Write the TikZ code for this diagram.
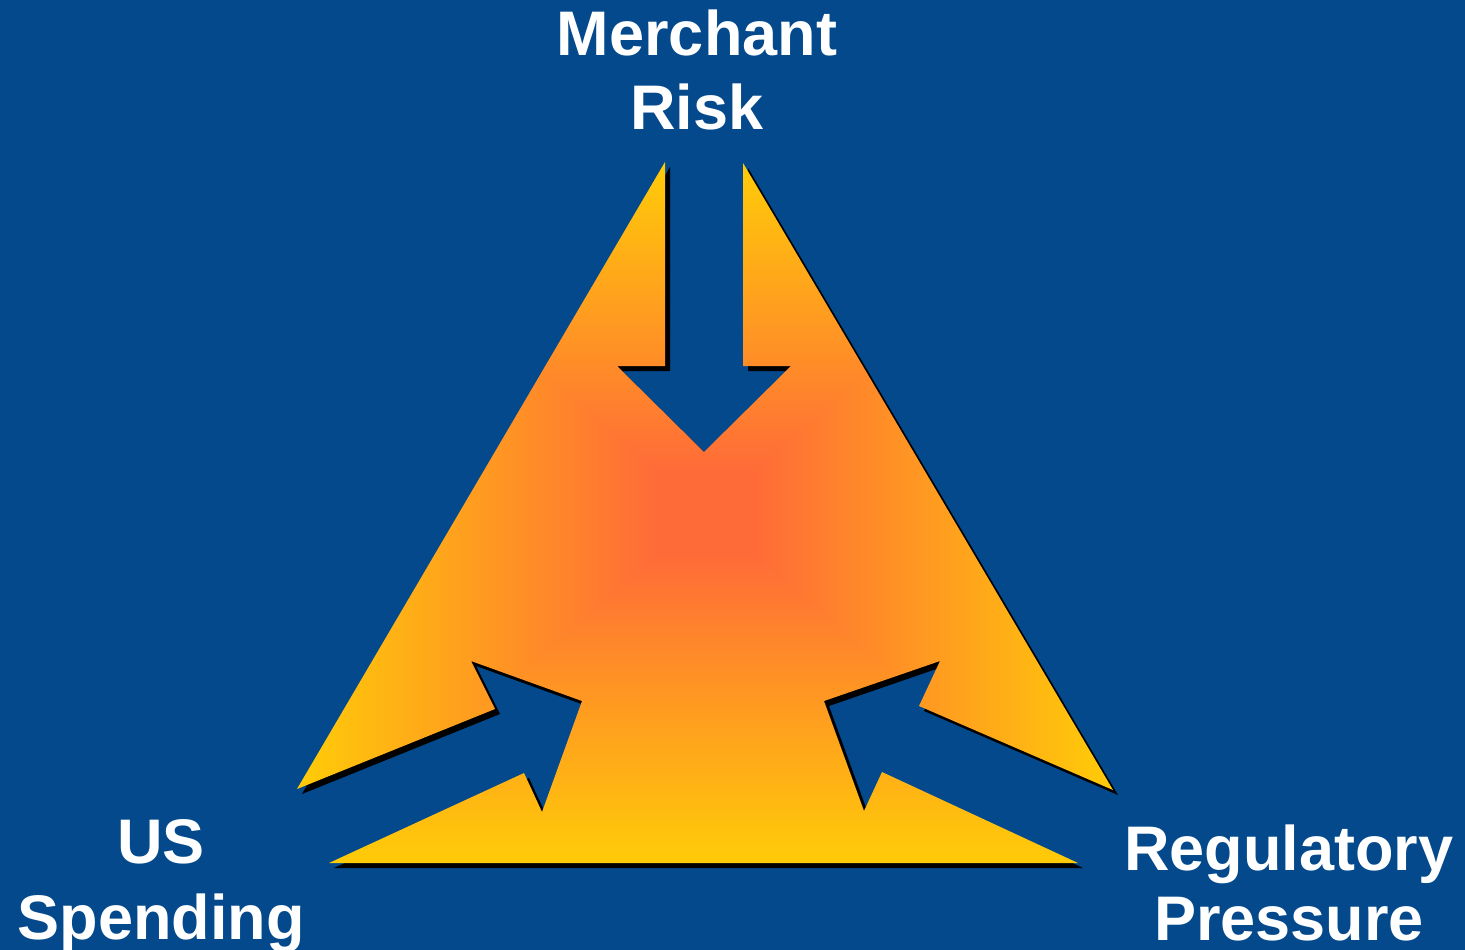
\documentclass[tikz,border=0pt]{standalone}
\usepackage{fontspec}
\setmainfont{Liberation Sans}
\definecolor{bgblue}{HTML}{03498C}

% rectangular glow: red-orange in the middle, yellow towards the box edges
\pgfdeclarefunctionalshading{rectglow}{\pgfpoint{-50bp}{-50bp}}{\pgfpoint{50bp}{50bp}}{}{
  abs exch abs
  2 copy lt {exch} if pop
  25 div dup 1 gt {pop 1} if
  0.12 sub 0.88 div dup 0 lt {pop 0} if
  dup 0.38 mul 0.42 add
  exch -0.19 mul 0.22 add
  1 3 1 roll
}

\tikzset{
  label/.style={text=white, font=\bfseries\fontsize{63}{74}\selectfont, anchor=base, inner sep=0pt},
  glowshape/.style={shading=rectglow,
    preaction={fill=black, transform canvas={xshift=5pt, yshift=-5pt}}}
}

\begin{document}
\begin{tikzpicture}[x=1pt, y=-1pt]
  \fill[bgblue] (0,0) rectangle (1465,950);
  \useasboundingbox (0,0) rectangle (1465,950);

  % triangle with three inward-pointing arrow cut-outs
  \path[glowshape]
    (665,162) -- (665,366) -- (617,366) -- (704,452) -- (791,366) -- (743,366) -- (743,163)
    -- (1113,790) -- (919,706) -- (940,661) -- (824,701) -- (864,811) -- (882,772) -- (1078,863)
    -- (329,863) -- (524,773) -- (542,812) -- (582,701) -- (471,661) -- (495,709) -- (297,789)
    -- cycle;

  \node[label] (merchant) at (697,56) {Merchant};
  \node[label] (risk) at (697,129) {Risk};
  \node[label] (us) at (161,863) {US};
  \node[label] (spending) at (161,939) {Spending};
  \node[label] (regulatory) at (1289,870) {Regulatory};
  \node[label] (pressure) at (1289,940) {Pressure};
\end{tikzpicture}
\end{document}
